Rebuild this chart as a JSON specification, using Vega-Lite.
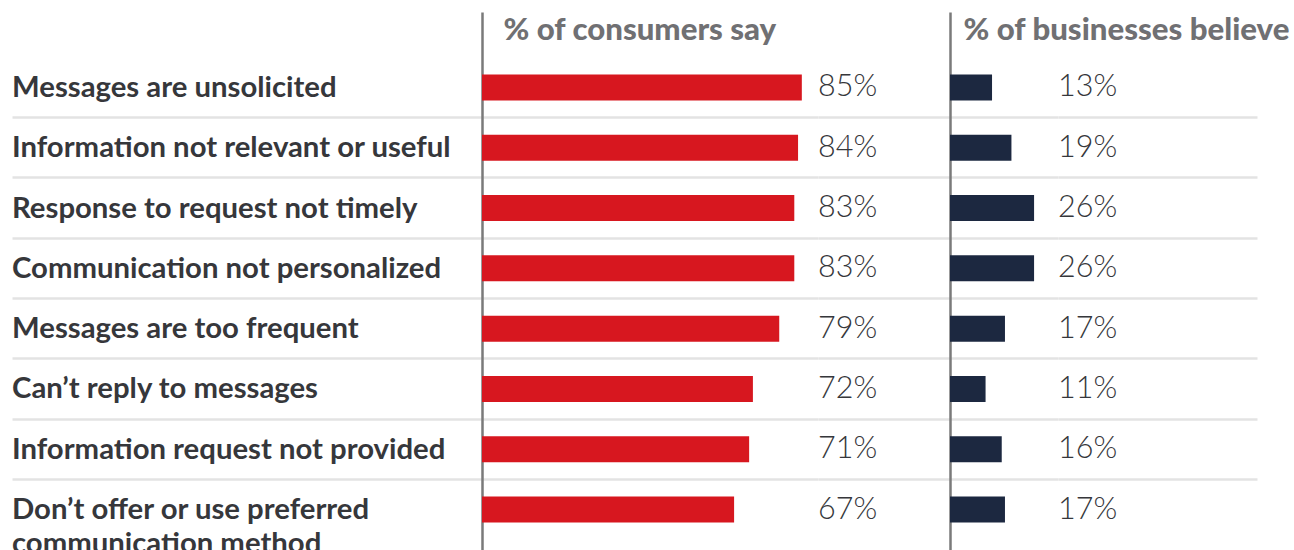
{
  "$schema": "https://vega.github.io/schema/vega-lite/v6.json",
  "padding": {"left": 12, "top": 12, "right": 4, "bottom": 0},
  "background": "white",
  "spacing": 0,
  "bounds": "flush",
  "config": {"view": {"stroke": null}, "font": "Lato"},
  "resolve": {"scale": {"x": "independent", "y": "independent"}},
  "data": {
    "values": [
      {"reason": "Messages are unsolicited", "consumers": 0.85, "businesses": 0.13},
      {"reason": "Information not relevant or useful", "consumers": 0.84, "businesses": 0.19},
      {"reason": "Response to request not timely", "consumers": 0.83, "businesses": 0.26},
      {"reason": "Communication not personalized", "consumers": 0.83, "businesses": 0.26},
      {"reason": "Messages are too frequent", "consumers": 0.79, "businesses": 0.17},
      {"reason": "Can’t reply to messages", "consumers": 0.72, "businesses": 0.11},
      {"reason": "Information request not provided", "consumers": 0.71, "businesses": 0.16},
      {"reason": "Don’t offer or use preferred\ncommunication method", "consumers": 0.67, "businesses": 0.17}
    ]
  },
  "hconcat": [
    {
      "width": 470,
      "height": 573,
      "mark": {"type": "text", "align": "left", "baseline": "top", "dy": -13.5, "lineBreak": "\n", "lineHeight": 34, "font": "Lato", "fontSize": 29.3, "fontWeight": "bold", "color": "#36373b"},
      "encoding": {
        "x": {"value": 0},
        "y": {"field": "reason", "type": "nominal", "sort": null, "scale": {"type": "band", "paddingInner": 0, "paddingOuter": 0.75},
          "axis": {"title": null, "labels": false, "ticks": false, "domain": false, "grid": true, "bandPosition": 0, "gridColor": "#e3e3e3", "gridWidth": 2.5,
            "gridOpacity": {"condition": {"test": "datum.value === 'Messages are unsolicited'", "value": 0}, "value": 1}}},
        "text": {"field": "reason"}
      }
    },
    {
      "width": 336,
      "height": 573,
      "mark": {"type": "bar", "height": 26, "color": "#d7171f"},
      "encoding": {
        "x": {"field": "consumers", "type": "quantitative", "scale": {"domain": [0, 0.893], "nice": false},
          "axis": {"orient": "top", "domain": false, "ticks": false, "labels": false, "grid": false, "title": "% of consumers say", "titleX": 21, "titleY": 27.5, "titleAlign": "left", "titleAnchor": "start", "titleBaseline": "alphabetic", "titleFont": "Lato", "titleFontSize": 31.2, "titleFontWeight": 900, "titleColor": "#707073", "titlePadding": 0}},
        "y": {"field": "reason", "type": "nominal", "sort": null, "scale": {"type": "band", "paddingInner": 0, "paddingOuter": 0.75},
          "axis": {"title": null, "labels": false, "ticks": false, "domain": true, "domainColor": "#7a7a7a", "domainWidth": 2.5, "grid": true, "bandPosition": 0, "gridColor": "#e3e3e3", "gridWidth": 2.5,
            "gridOpacity": {"condition": {"test": "datum.value === 'Messages are unsolicited'", "value": 0}, "value": 1}}}
      }
    },
    {
      "width": 132,
      "height": 573,
      "mark": {"type": "text", "align": "left", "baseline": "middle", "font": "Lato", "fontSize": 30.5, "fontWeight": 300, "color": "#36373b"},
      "encoding": {
        "x": {"value": 0},
        "y": {"field": "reason", "type": "nominal", "sort": null, "scale": {"type": "band", "paddingInner": 0, "paddingOuter": 0.75},
          "axis": {"title": null, "labels": false, "ticks": false, "domain": false, "grid": true, "bandPosition": 0, "gridColor": "#e3e3e3", "gridWidth": 2.5,
            "gridOpacity": {"condition": {"test": "datum.value === 'Messages are unsolicited'", "value": 0}, "value": 1}}},
        "text": {"field": "consumers", "type": "quantitative", "format": ".0%"}
      }
    },
    {
      "width": 108,
      "height": 573,
      "mark": {"type": "bar", "height": 26, "color": "#1c2840"},
      "encoding": {
        "x": {"field": "businesses", "type": "quantitative", "scale": {"domain": [0, 0.334], "nice": false},
          "axis": {"orient": "top", "domain": false, "ticks": false, "labels": false, "grid": false, "title": "% of businesses believe", "titleX": 13, "titleY": 27.5, "titleAlign": "left", "titleAnchor": "start", "titleBaseline": "alphabetic", "titleFont": "Lato", "titleFontSize": 31.2, "titleFontWeight": 900, "titleColor": "#707073", "titlePadding": 0}},
        "y": {"field": "reason", "type": "nominal", "sort": null, "scale": {"type": "band", "paddingInner": 0, "paddingOuter": 0.75},
          "axis": {"title": null, "labels": false, "ticks": false, "domain": true, "domainColor": "#7a7a7a", "domainWidth": 2.5, "grid": true, "bandPosition": 0, "gridColor": "#e3e3e3", "gridWidth": 2.5,
            "gridOpacity": {"condition": {"test": "datum.value === 'Messages are unsolicited'", "value": 0}, "value": 1}}}
      }
    },
    {
      "width": 199,
      "height": 573,
      "mark": {"type": "text", "align": "left", "baseline": "middle", "font": "Lato", "fontSize": 30.5, "fontWeight": 300, "color": "#36373b"},
      "encoding": {
        "x": {"value": 0},
        "y": {"field": "reason", "type": "nominal", "sort": null, "scale": {"type": "band", "paddingInner": 0, "paddingOuter": 0.75},
          "axis": {"title": null, "labels": false, "ticks": false, "domain": false, "grid": true, "bandPosition": 0, "gridColor": "#e3e3e3", "gridWidth": 2.5,
            "gridOpacity": {"condition": {"test": "datum.value === 'Messages are unsolicited'", "value": 0}, "value": 1}}},
        "text": {"field": "businesses", "type": "quantitative", "format": ".0%"}
      }
    }
  ]
}
